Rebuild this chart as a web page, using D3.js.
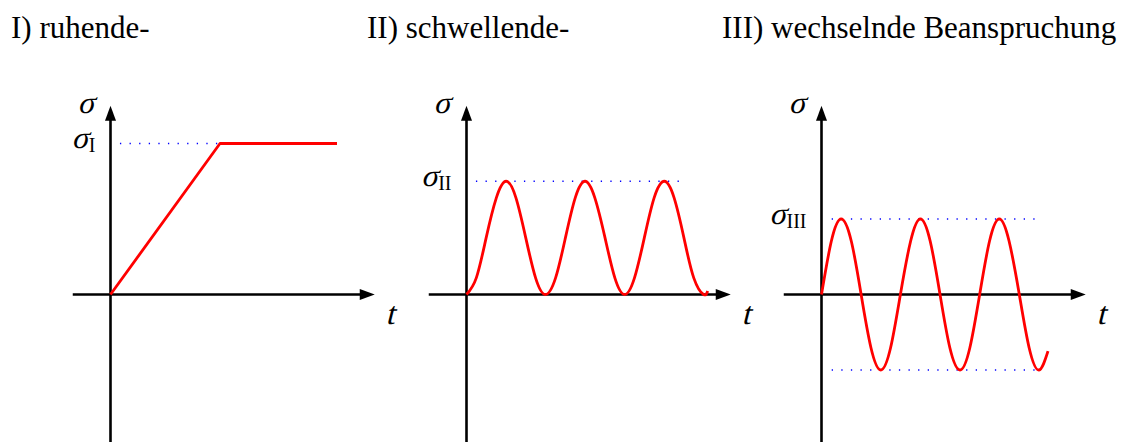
<!DOCTYPE html>
<html>
<head>
<meta charset="utf-8">
<script src="https://cdn.jsdelivr.net/npm/d3@7/dist/d3.min.js"></script>
<style>
  html, body { margin: 0; padding: 0; background: #fff; }
  svg { display: block; }
</style>
</head>
<body>
<svg id="chart" width="1133" height="442"></svg>
<script>
// Panel titles
const titles = ["I) ruhende-", "II) schwellende-", "III) wechselnde Beanspruchung"];
const titleX = [11, 367, 722];

// Level labels (roman subscripts of sigma)
const levelNames = ["I", "II", "III"];

// I) static load: ramp up to sigma_I, then constant
const tI = [0, 2.9, 6.0];
const sI = [0, 4, 4];

// II) pulsating load between 0 and sigma_II
const tII = [0, 0.26, 0.52, 0.79, 1.05, 1.31, 1.57, 1.83, 2.09, 2.36, 2.62, 2.88, 3.14,
             3.40, 3.67, 3.93, 4.19, 4.45, 4.71, 4.97, 5.24, 5.50, 5.76, 6.02, 6.28, 6.39];
const sII = [0, 0.44, 1.5, 2.56, 3, 2.56, 1.5, 0.44, 0, 0.44, 1.5, 2.56, 3,
             2.56, 1.5, 0.44, 0, 0.44, 1.5, 2.56, 3, 2.56, 1.5, 0.44, 0, 0.09];

// III) alternating load between -sigma_III and +sigma_III
const tIII = [0, 0.26, 0.52, 0.79, 1.05, 1.31, 1.57, 1.83, 2.09, 2.36, 2.62, 2.88,
              3.14, 3.40, 3.67, 3.93, 4.19, 4.45, 4.71, 4.97, 5.24, 5.50, 5.76, 6.0];
const sIII = [0, 1.41, 2, 1.41, 0, -1.41, -2, -1.41, 0, 1.41, 2, 1.41,
              0, -1.41, -2, -1.41, 0, 1.41, 2, 1.41, 0, -1.41, -2, -1.5];

// Reference levels (dotted guides): [level, tStart, tEnd]
const guidesI = [[4, 0.25, 2.9]];
const guidesII = [[3, 0.25, 5.78]];
const guidesIII = [[2, 0.27, 5.83], [-2, 0.27, 5.78]];

const panels = [
  { ox: 110.5, t: tI, s: sI, guides: guidesI, level: 4, curve: d3.curveLinear },
  { ox: 466.5, t: tII, s: sII, guides: guidesII, level: 3, curve: d3.curveNatural },
  { ox: 821.5, t: tIII, s: sIII, guides: guidesIII, level: 2, curve: d3.curveNatural }
];

const svg = d3.select("#chart");
svg.append("rect").attr("width", 1133).attr("height", 442).attr("fill", "#fff");

const serif = "'Liberation Serif', 'Times New Roman', serif";

// Titles
svg.selectAll("text.title").data(titles).join("text")
  .attr("class", "title")
  .attr("x", (d, i) => titleX[i])
  .attr("y", 38)
  .attr("font-family", serif)
  .attr("font-size", 31)
  .attr("fill", "#000")
  .text(d => d);

const oy = 294.5;
const unit = 37.75;
const x = d3.scaleLinear().domain([-1, 7]).range([-1 * unit, 7 * unit]);
const y = d3.scaleLinear().domain([-4, 5]).range([4 * unit, -5 * unit]);

const arrowLen = 15, arrowHalf = 5.5;

// slanted math symbol (upright serif glyph with an oblique shear)
function mathSymbol(g, str, px, py, size, anchor) {
  return g.append("text")
    .attr("transform", `translate(${px},${py}) skewX(-14)`)
    .attr("text-anchor", anchor || "start")
    .attr("font-family", serif)
    .attr("font-size", size)
    .attr("fill", "#000")
    .text(str);
}

panels.forEach((p, i) => {
  const g = svg.append("g").attr("transform", `translate(${p.ox},${oy})`);

  // dotted guide lines
  g.selectAll("line.guide").data(p.guides).join("line")
    .attr("class", "guide")
    .attr("x1", d => x(d[1])).attr("x2", d => x(d[2]))
    .attr("y1", d => y(d[0])).attr("y2", d => y(d[0]))
    .attr("stroke", "#0000ff")
    .attr("stroke-width", 1.3)
    .attr("stroke-dasharray", "1.3 8.3");

  // horizontal axis with arrow
  const xEnd = x(7);
  g.append("line")
    .attr("x1", x(-1)).attr("x2", xEnd - arrowLen + 1)
    .attr("y1", y(0)).attr("y2", y(0))
    .attr("stroke", "#000").attr("stroke-width", 2.6);
  g.append("path")
    .attr("d", `M${xEnd},${y(0)} L${xEnd - arrowLen},${y(0) - arrowHalf} L${xEnd - arrowLen},${y(0) + arrowHalf} Z`)
    .attr("fill", "#000");

  // vertical axis with arrow
  const yTop = y(5);
  g.append("line")
    .attr("x1", x(0)).attr("x2", x(0))
    .attr("y1", y(-4)).attr("y2", yTop + arrowLen - 1)
    .attr("stroke", "#000").attr("stroke-width", 2.6);
  g.append("path")
    .attr("d", `M${x(0)},${yTop} L${x(0) - arrowHalf},${yTop + arrowLen} L${x(0) + arrowHalf},${yTop + arrowLen} Z`)
    .attr("fill", "#000");

  // load curve
  const pts = p.t.map((t, k) => [t, p.s[k]]);
  g.append("path")
    .datum(pts)
    .attr("d", d3.line().x(d => x(d[0])).y(d => y(d[1])).curve(p.curve))
    .attr("fill", "none")
    .attr("stroke", "#ff0000")
    .attr("stroke-width", 2.8)
    .attr("stroke-linejoin", "round");

  // axis labels
  mathSymbol(g, "σ", x(0) - 33, yTop + 7.5, 31);
  mathSymbol(g, "t", x(0) + 275, y(0) + 29.5, 32);

  // level label: sigma with roman subscript, right-aligned to the axis
  const sub = g.append("text")
    .attr("x", x(0) - 15).attr("y", y(p.level) + 8.5)
    .attr("text-anchor", "end")
    .attr("font-family", serif)
    .attr("font-size", 20)
    .attr("fill", "#000")
    .text(levelNames[i]);
  const subW = sub.node().getComputedTextLength();
  mathSymbol(g, "σ", x(0) - 15 - subW - 0.5, y(p.level) + 4.5, 31, "end");
});
</script>
</body>
</html>
